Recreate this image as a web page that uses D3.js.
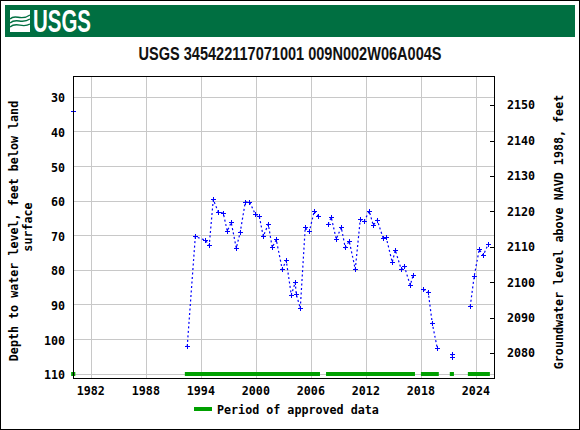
<!DOCTYPE html>
<html>
<head>
<meta charset="utf-8">
<script src="https://cdn.jsdelivr.net/npm/d3@7"></script>
<style>
  html, body { margin: 0; padding: 0; background: #fff; }
  svg { display: block; }
  .mono { font-family: "DejaVu Sans Mono", monospace; font-weight: bold; fill: #000; }
</style>
</head>
<body>
<div id="chart"></div>
<script>
const years = [1980.03, 1985, 1992.46, 1993.34, 1994.43, 1994.86, 1995.30, 1995.85, 1996.39, 1996.83, 1997.26, 1997.81,
  1998.24, 1998.79, 1999.27, 1999.88, 2000.32, 2000.75, 2001.30, 2001.73, 2002.17, 2002.82, 2003.26,
  2003.81, 2004.24, 2004.35, 2004.79, 2005.33, 2005.77, 2006.31, 2006.75, 2007.3, 2007.84, 2008.17, 2008.71,
  2009.26, 2009.69, 2010.13, 2010.79, 2011.33, 2011.77, 2012.31, 2012.75, 2013.18, 2013.84, 2014.17,
  2014.82, 2015.15, 2015.80, 2016.13, 2016.78, 2017.11, 2017.7, 2018.24, 2018.75, 2019.19, 2019.73, 2020.5,
  2021.37, 2021.37, 2022.4, 2023.33, 2023.76, 2024.31, 2024.74, 2025.29];
const depths = [34, null, 102, 70.3, 71.3, 72.8, 59.6, 63.2, 63.5, 68.7, 66.2, 73.6,
  69, 60.3, 60.3, 63.8, 64.4, 70.2, 66.7, 73.4, 71.2, 79.7, 77.2,
  87.2, 83.5, 86.9, 91, 67.7, 68.9, 62.9, 64.4, null, 66.7, 64.7, 71,
  67.6, 73.4, 71.6, 79.7, 65.4, 65.8, 62.9, 67, 65.5, 70.8, 70.6,
  77.7, 74.2, 79.7, 78.8, 84.3, 81.4, null, 85.5, 86.4, 95.4, 102.5, null,
  104.3, 105.1, null, 90.4, 81.7, 74, 75.7, 72.5];
// runs of approved record, start and end year
const approvedStart = [1979.8, 1992.2, 2007.6, 2017.95, 2021.1, 2023.07];
const approvedEnd = [1980.25, 2006.94, 2017.3, 2019.9, 2021.55, 2025.47];

const xTicks = [1982, 1988, 1994, 2000, 2006, 2012, 2018, 2024];
const leftTicks = [30, 40, 50, 60, 70, 80, 90, 100, 110];
const rightTicks = [2080, 2090, 2100, 2110, 2120, 2130, 2140, 2150];

const titleText = 'USGS 345422117071001 009N002W06A004S';
const leftLabel = ['Depth to water level, feet below land', 'surface'];
const rightLabel = 'Groundwater level above NAVD 1988, feet';
const legendLabel = 'Period of approved data';

const width = 580, height = 430;
const plot = { left: 73, top: 76, right: 494, bottom: 378 };
const fontSize = '11.7px';

const svg = d3.select('#chart').append('svg')
  .attr('width', width)
  .attr('height', height);

const x = d3.scaleLinear().domain([1980, 2025.92]).range([plot.left, plot.right]);
const yLeft = d3.scaleLinear().domain([23.85, 111.15]).range([plot.top, plot.bottom]);
const yRight = d3.scaleLinear().domain([2158.2, 2073]).range([plot.top, plot.bottom]);

// page frame and banner
svg.append('rect').attr('x', 0.5).attr('y', 0.5).attr('width', width - 1).attr('height', height - 1)
  .attr('fill', '#fff').attr('stroke', '#000');
svg.append('rect').attr('x', 5).attr('y', 5).attr('width', 570).attr('height', 32).attr('fill', '#006f41');

// logo
const logo = svg.append('g').attr('transform', 'translate(10,10)');
logo.append('rect').attr('width', 20).attr('height', 22).attr('fill', '#fff');
['M0 9 C6 3 10 12 20 5', 'M0 13 C7 7 11 15 20 9', 'M0 17 C7 11 12 19 20 14'].forEach(d => {
  logo.append('path').attr('d', d).attr('fill', 'none').attr('stroke', '#006f41').attr('stroke-width', 1.4);
});
svg.append('text').attr('x', 33).attr('y', 32)
  .attr('textLength', 58).attr('lengthAdjust', 'spacingAndGlyphs')
  .style('font-family', '"Liberation Sans", sans-serif').style('font-weight', 'bold')
  .style('font-size', '30.5px').attr('fill', '#fff').text('USGS');

// title
svg.append('text').attr('x', 290).attr('y', 60).attr('text-anchor', 'middle')
  .attr('textLength', 303).attr('lengthAdjust', 'spacingAndGlyphs')
  .style('font-family', '"Liberation Sans", sans-serif').style('font-weight', 'bold')
  .style('font-size', '18.5px').attr('fill', '#111').text(titleText);

// grid
const grid = svg.append('g').attr('stroke', '#c8c8c8').attr('stroke-width', 1).attr('shape-rendering', 'crispEdges');
xTicks.forEach(t => {
  grid.append('line').attr('x1', x(t)).attr('x2', x(t)).attr('y1', plot.top).attr('y2', plot.bottom);
});
leftTicks.forEach(t => {
  grid.append('line').attr('x1', plot.left).attr('x2', plot.right).attr('y1', yLeft(t)).attr('y2', yLeft(t));
});

// approved periods
svg.append('g').selectAll('rect').data(approvedStart).join('rect')
  .attr('x', d => x(d))
  .attr('y', 372)
  .attr('width', (d, i) => x(approvedEnd[i]) - x(d))
  .attr('height', 4)
  .attr('fill', '#00a000');

// series
const points = years.map((yr, i) => ({ yr, depth: depths[i] }));
const line = d3.line().defined(d => d.depth !== null).x(d => x(d.yr)).y(d => yLeft(d.depth));
svg.append('path').attr('d', line(points)).attr('fill', 'none')
  .attr('stroke', '#0000ff').attr('stroke-width', 1.2).attr('stroke-dasharray', '2 2.5');
svg.append('g').selectAll('g').data(points.filter(d => d.depth !== null)).join('g')
  .each(function (d) {
    const g = d3.select(this), px = x(d.yr), py = yLeft(d.depth);
    g.append('line').attr('x1', px - 2.5).attr('x2', px + 2.5).attr('y1', py).attr('y2', py);
    g.append('line').attr('x1', px).attr('x2', px).attr('y1', py - 2.5).attr('y2', py + 2.5);
  })
  .attr('stroke', '#0000ff').attr('stroke-width', 1).attr('shape-rendering', 'crispEdges');

// axes
const axisBottom = d3.axisBottom(x).tickValues(xTicks).tickFormat(d3.format('d')).tickSize(0).tickPadding(9);
const axisLeft = d3.axisLeft(yLeft).tickValues(leftTicks).tickSize(0).tickPadding(8);
const axisRight = d3.axisRight(yRight).tickValues(rightTicks).tickFormat(d3.format('d')).tickSize(-4).tickPadding(13);

const gx = svg.append('g').attr('transform', `translate(0,${plot.bottom})`).call(axisBottom);
const gl = svg.append('g').attr('transform', `translate(${plot.left},0)`).call(axisLeft);
const gr = svg.append('g').attr('transform', `translate(${plot.right},0)`).call(axisRight);
[gx, gl, gr].forEach(g => {
  g.select('.domain').remove();
  g.selectAll('text').attr('class', 'mono').style('font-size', fontSize);
});
gx.selectAll('text').attr('dx', -1);
gl.selectAll('text').attr('dy', '0.4em');
gr.selectAll('line').attr('stroke', '#000').attr('shape-rendering', 'crispEdges');

svg.append('rect').attr('x', plot.left + 0.5).attr('y', plot.top + 0.5)
  .attr('width', plot.right - plot.left).attr('height', plot.bottom - plot.top)
  .attr('fill', 'none').attr('stroke', '#000').attr('stroke-width', 1);

// axis titles
svg.append('text').attr('class', 'mono').attr('text-anchor', 'middle')
  .attr('transform', 'translate(18,231) rotate(-90)').style('font-size', fontSize).text(leftLabel[0]);
svg.append('text').attr('class', 'mono').attr('text-anchor', 'middle')
  .attr('transform', 'translate(32,227) rotate(-90)').style('font-size', fontSize).text(leftLabel[1]);
svg.append('text').attr('class', 'mono').attr('text-anchor', 'middle')
  .attr('transform', 'translate(563,232) rotate(-90)').style('font-size', fontSize).text(rightLabel);

// legend
svg.append('rect').attr('x', 194).attr('y', 407).attr('width', 18).attr('height', 4).attr('fill', '#00a000');
svg.append('text').attr('class', 'mono').attr('x', 217).attr('y', 414).style('font-size', fontSize).text(legendLabel);
</script>
</body>
</html>
